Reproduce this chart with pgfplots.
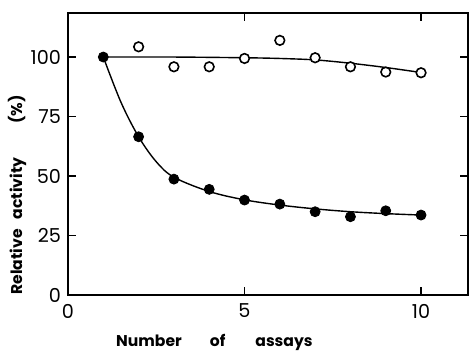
\documentclass[border=0pt]{standalone}
\usepackage{pgfplots}
\pgfplotsset{compat=1.18}
\usepackage{fontspec}
\setmainfont{Poppins}
\begin{document}
\begin{tikzpicture}
\begin{axis}[
  at={(0,0)}, anchor=south west,
  scale only axis, width=200pt, height=141pt,
  xmin=0, xmax=11.33, ymin=0, ymax=118.5,
  xtick={0,5,10}, ytick={0,25,50,75,100},
  tick align=inside, major tick length=4pt,
  tick style={line width=0.9pt, black},
  axis line style={line width=1pt},
  /pgf/number format/assume math mode=true,
  tick label style={font=\fontsize{9.6}{11}\selectfont},
  xticklabel style={yshift=-1pt},
  yticklabel style={xshift=0pt},
  xlabel={\textbf{Number\hspace{14pt}of\hspace{15pt}assays}},
  xlabel style={at={(axis description cs:0.366,-0.167)}, anchor=center, font=\fontsize{7.8}{9}\selectfont},
  ylabel={\textbf{Relative\hspace{5pt}activity\hspace{17pt}(\%)}},
  ylabel style={at={(axis description cs:-0.1275,0.355)}, anchor=center, font=\fontsize{7.8}{9}\selectfont},
  clip=false,
]
% fitted curve, filled
\addplot[black, line width=0.7pt, smooth, tension=0.55] coordinates {
 (1,100) (1.5,81) (2,66.5) (2.5,56) (3,49.5) (4,43.5) (5,40) (6,37.8) (7,36.2) (8,35) (9,34.2) (10,33.6)};
% fitted curve, open
\addplot[black, line width=0.7pt, smooth] coordinates {
 (1,100) (3,100) (5,99.7) (6,99.4) (7,98.8) (8,97.4) (9,95.6) (10,93.5)};
% open circles
\addplot[only marks, mark=*, mark size=2.4pt, mark options={fill=white, draw=black, line width=0.8pt}] coordinates {
 (2,104.3) (3,95.9) (4,95.9) (5,99.4) (6,107) (7,99.7) (8,95.9) (9,93.7) (10,93.4)};
% filled circles
\addplot[only marks, mark=*, mark size=2.5pt, mark options={fill=black, draw=black}] coordinates {
 (1,100) (2,66.5) (3,48.7) (4,44.4) (5,39.9) (6,38.2) (7,35) (8,32.9) (9,35.4) (10,33.6)};
\end{axis}
\path[use as bounding box] (-34pt,-26.5pt) rectangle (200.5pt,147.5pt);
\end{tikzpicture}
\end{document}
